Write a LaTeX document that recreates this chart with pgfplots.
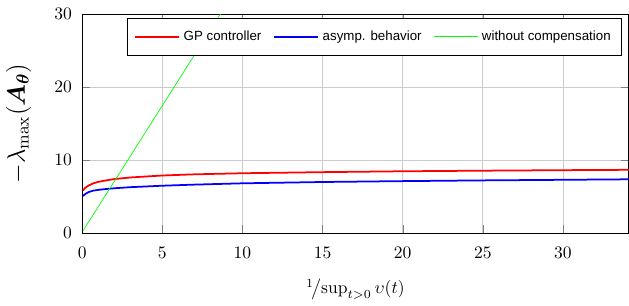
\documentclass[border=0pt]{standalone}
\usepackage{pgfplots}
\pgfplotsset{compat=1.18}
\usepackage{amsmath,bm}
\usepackage{fontspec}
\newfontfamily\legendfont{Liberation Sans}
\begin{document}
\begin{tikzpicture}
\begin{axis}[
  scale only axis,
  width=312pt, height=125pt,
  xmin=0, xmax=34.1, ymin=0, ymax=30,
  xtick={0,5,10,15,20,25,30},
  ytick={0,10,20,30},
  grid=major,
  major grid style={lightgray!80},
  major tick style={gray},
  yticklabel style={xshift=-2.3pt},
  xticklabel style={yshift=-4.5pt},
  xlabel shift=5pt,
  ylabel shift=6.5pt,
  xlabel={${}^{1}\!\big/\!\sup_{t>0}\upsilon(t)$},
  ylabel={\Large $-\lambda_{\max}(\bm{A_\theta})$},
  legend columns=3,
  legend style={at={(0.987,0.982)}, anchor=north east,
    font=\legendfont\fontsize{7.6}{9}\selectfont,
    inner xsep=4pt, inner ysep=5pt,
    /tikz/every even column/.append style={column sep=5pt}},
  legend image code/.code={\draw[#1] (0cm,0cm) -- (0.88cm,0cm);},
  legend cell align=left,
]
\addplot[red, line width=1pt] coordinates {(0.05,5.8)(0.1,5.95)(0.2,6.2)(0.4,6.5)(0.7,6.8)(1,7.0)(1.5,7.2)(2,7.38)(3,7.6)(5,7.87)(7,8.03)(10,8.18)(15,8.33)(20,8.45)(25,8.53)(30,8.6)(34.2,8.65)};
\addlegendentry{GP controller}
\addplot[blue, line width=1pt] coordinates {(0.05,5.05)(0.1,5.15)(0.2,5.35)(0.4,5.6)(0.7,5.8)(1,5.9)(1.5,6.02)(2,6.12)(3,6.27)(5,6.47)(7,6.62)(10,6.8)(15,6.98)(20,7.1)(25,7.2)(30,7.28)(34.2,7.35)};
\addlegendentry{asymp. behavior}
\addplot[green, thin] coordinates {(0.05,0.3)(9,31.3)};
\addlegendentry{without compensation}
\end{axis}
\path ([yshift=8pt]current axis.north);
\end{tikzpicture}
\end{document}
